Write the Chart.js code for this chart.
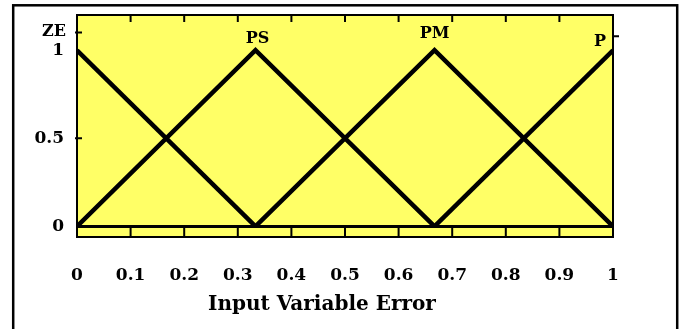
<!DOCTYPE html>
<html lang="en">
<head>
  <meta charset="UTF-8" />
  <title>Input Variable Error - membership functions</title>
  <script src="https://cdn.jsdelivr.net/npm/chart.js"></script>
  <style>
    html, body { margin: 0; padding: 0; background: #fff; }
    #wrap { width: 683px; height: 329px; }
  </style>
</head>
<body>
  <div id="wrap"><canvas id="mfChart" width="683" height="329"></canvas></div>

  <script>
// membership function names and their corner points
const setNames = ['ZE', 'PS', 'PM', 'P'];
const zeX = [0, 0.333];
const zeY = [1, 0];
const psX = [0, 0.333, 0.667];
const psY = [0, 1, 0];
const pmX = [0.333, 0.667, 1];
const pmY = [0, 1, 0];
const pX = [0.667, 1];
const pY = [0, 1];

// axis ticks
const xTicks = [0, 0.1, 0.2, 0.3, 0.4, 0.5, 0.6, 0.7, 0.8, 0.9, 1];
const xTickLabels = ['0', '0.1', '0.2', '0.3', '0.4', '0.5', '0.6', '0.7', '0.8', '0.9', '1'];
const yTicks = [0, 0.5, 1];
const yTickLabels = ['0', '0.5', '1'];
const yMarks = [0.5, 1.1];
const xTitle = 'Input Variable Error';

const toPoints = (xs, ys) => xs.map((x, i) => ({ x: x, y: ys[i] }));
const seriesPoints = [toPoints(zeX, zeY), toPoints(psX, psY), toPoints(pmX, pmY), toPoints(pX, pY)];

const boldSerif = size => ({ family: 'DejaVu Serif', weight: 'bold', size: size });

// label offsets from each set's peak, in px
const nameOffsets = [[-23, -18], [2, -11], [0, -16], [-13, -8]];

const framePlugin = {
  id: 'framePlugin',
  beforeDraw(chart) {
    const { ctx, chartArea: a } = chart;
    ctx.save();
    ctx.fillStyle = '#fff';
    ctx.fillRect(0, 0, chart.width, chart.height);
    ctx.fillStyle = '#ffff66';
    ctx.fillRect(a.left, a.top, a.right - a.left, a.bottom - a.top);
    ctx.restore();
  },
  afterDatasetsDraw(chart) {
    const { ctx, chartArea: a, scales } = chart;
    const xs = scales.x, ys = scales.y;
    const zeroY = ys.getPixelForValue(0);
    ctx.save();
    ctx.strokeStyle = '#000';
    ctx.lineWidth = 2;
    ctx.beginPath();
    // strip ticks under the zero line and short ticks along the top
    xTicks.slice(1, -1).forEach(v => {
      const px = xs.getPixelForValue(v);
      ctx.moveTo(px, zeroY);
      ctx.lineTo(px, a.bottom);
      ctx.moveTo(px, a.top);
      ctx.lineTo(px, a.top + 7);
    });
    yMarks.forEach(v => {
      const py = ys.getPixelForValue(v);
      ctx.moveTo(a.left - 2, py);
      ctx.lineTo(a.left + 5, py);
    });
    const ry = ys.getPixelForValue(1.08);
    ctx.moveTo(a.right, ry);
    ctx.lineTo(a.right + 6, ry);
    ctx.stroke();
    ctx.strokeRect(a.left, a.top, a.right - a.left, a.bottom - a.top);

    // set names above their peaks
    ctx.fillStyle = '#000';
    ctx.font = 'bold 16px "DejaVu Serif"';
    ctx.textAlign = 'center';
    ctx.textBaseline = 'middle';
    chart.data.datasets.forEach((ds, i) => {
      const peak = ds.data.find(p => p.y === 1);
      const px = xs.getPixelForValue(peak.x) + nameOffsets[i][0];
      const py = ys.getPixelForValue(peak.y) + nameOffsets[i][1];
      ctx.fillText(setNames[i], px, py);
    });
    ctx.restore();
  },
  afterDraw(chart) {
    const { ctx, chartArea: a } = chart;
    ctx.save();
    // axis title, sitting a little left of the plot centre
    ctx.fillStyle = '#000';
    ctx.font = 'bold 20px "DejaVu Serif"';
    ctx.textAlign = 'center';
    ctx.textBaseline = 'middle';
    ctx.fillText(xTitle, a.left + (a.right - a.left) * 0.457, a.bottom + 68);
    // outer frame
    ctx.strokeStyle = '#000';
    ctx.lineWidth = 2.5;
    ctx.strokeRect(13.2, 5.3, 664, 340);
    ctx.restore();
  }
};

new Chart(document.getElementById('mfChart'), {
  type: 'line',
  data: {
    datasets: seriesPoints.map((pts, i) => ({
      label: setNames[i],
      data: pts,
      borderColor: '#000',
      borderWidth: 4.5,
      pointRadius: 0,
      tension: 0,
      fill: false
    }))
  },
  options: {
    responsive: false,
    animation: false,
    layout: { padding: { left: 0, right: 70, top: 15, bottom: 0 } },
    plugins: {
      legend: { display: false },
      tooltip: { enabled: false }
    },
    scales: {
      x: {
        type: 'linear',
        min: 0,
        max: 1,
        afterBuildTicks: s => { s.ticks = xTicks.map(v => ({ value: v })); },
        afterFit: s => { s.height = 92; s.paddingLeft = 0; s.paddingRight = 0; },
        ticks: {
          color: '#000',
          font: boldSerif(17),
          padding: 20,
          maxRotation: 0,
          autoSkip: false,
          callback: (v, i) => xTickLabels[i]
        },
        grid: { display: false },
        border: { display: false }
      },
      y: {
        type: 'linear',
        min: -0.06,
        max: 1.2,
        afterBuildTicks: s => { s.ticks = yTicks.map(v => ({ value: v })); },
        afterFit: s => { s.width = 77; s.paddingTop = 0; s.paddingBottom = 0; },
        ticks: {
          color: '#000',
          font: boldSerif(17),
          padding: 13,
          callback: (v, i) => yTickLabels[i]
        },
        grid: {
          drawTicks: false,
          lineWidth: 3,
          color: c => (c.tick && c.tick.value === 0 ? '#000' : 'rgba(0,0,0,0)')
        },
        border: { display: false }
      }
    }
  },
  plugins: [framePlugin]
});
  </script>
</body>
</html>
